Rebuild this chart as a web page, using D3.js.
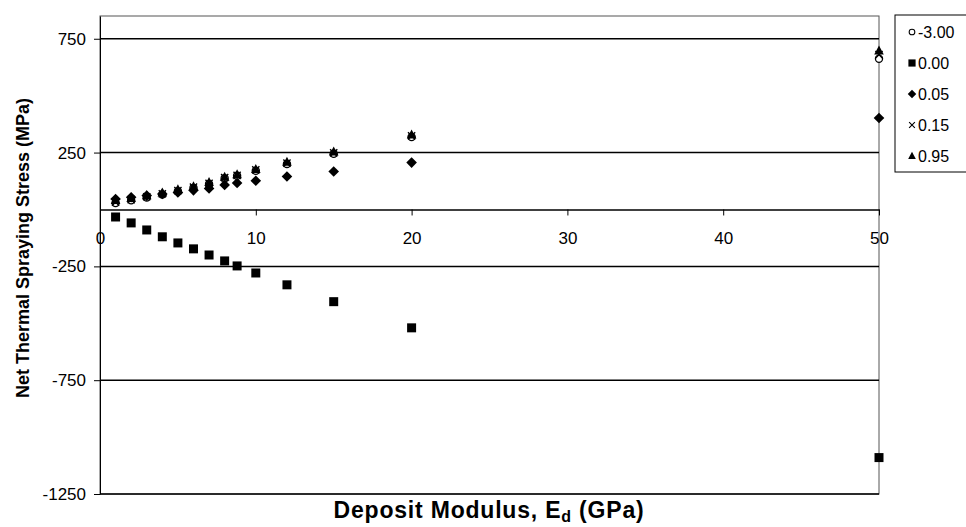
<!DOCTYPE html>
<html>
<head>
<meta charset="utf-8">
<script src="https://cdn.jsdelivr.net/npm/d3@7"></script>
<style>
  body { margin: 0; background: #fff; }
  svg { display: block; font-family: "Liberation Sans", Arial, sans-serif; }
</style>
</head>
<body>
<div id="chart"></div>
<script>
// DEPOSIT MODULUS VALUES (GPa)
const modulus = [1, 2, 3, 4, 5, 6, 7, 8, 8.8, 10, 12, 15, 20, 50];

// NET STRESS FOR EACH SERIES (MPa)
const sMinus300 = [28, 40, 53, 66, 80, 95, 112, 137, 148, 170, 200, 245, 318, 662];
const s000 = [-33, -59, -90, -120, -147, -173, -200, -226, -248, -279, -331, -405, -520, -1090];
const s005 = [46, 54, 61, 68, 75, 84, 92, 108, 116, 126, 145, 167, 206, 402];
const s015 = [32, 43, 56, 69, 83, 98, 115, 140, 150, 174, 204, 249, 323, 680];
const s095 = [40, 49, 61, 73, 87, 101, 119, 143, 153, 177, 208, 253, 328, 697];

const seriesNames = ['-3.00', '0.00', '0.05', '0.15', '0.95'];
const seriesValues = [sMinus300, s000, s005, s015, s095];
const seriesSymbols = ['circle', 'square', 'diamond', 'cross', 'triangle'];

const xTicks = [0, 10, 20, 30, 40, 50];
const yTicks = [-1250, -750, -250, 250, 750];

const width = 966, height = 527;
const plot = { left: 100, right: 879, top: 16, bottom: 494 };

const x = d3.scaleLinear().domain([0, 50]).range([plot.left, plot.right]);
const y = d3.scaleLinear().domain([-1250, 850]).range([plot.bottom, plot.top]);

const svg = d3.select('#chart')
  .append('svg')
  .attr('width', width)
  .attr('height', height);

// PLOT AREA BORDER
svg.append('rect')
  .attr('x', plot.left)
  .attr('y', plot.top)
  .attr('width', plot.right - plot.left)
  .attr('height', plot.bottom - plot.top)
  .attr('fill', 'none')
  .attr('stroke', '#555')
  .attr('stroke-width', 1);

// HORIZONTAL GRIDLINES
svg.append('g')
  .selectAll('line')
  .data(yTicks)
  .enter()
  .append('line')
  .attr('x1', plot.left)
  .attr('x2', plot.right)
  .attr('y1', function (d) { return y(d); })
  .attr('y2', function (d) { return y(d); })
  .attr('stroke', '#000')
  .attr('stroke-width', 1.5);

// Y AXIS (plain hyphen for negatives, like the original)
const yAxis = svg.append('g')
  .attr('transform', 'translate(' + plot.left + ',0)')
  .call(d3.axisLeft(y).tickValues(yTicks).tickSize(6).tickSizeOuter(0)
    .tickFormat(function (d) { return String(d); }));
yAxis.select('.domain').attr('stroke', '#000');
yAxis.selectAll('.tick line').attr('stroke', '#000');
yAxis.selectAll('text')
  .attr('font-size', 17)
  .attr('fill', '#000')
  .attr('x', -14);

// X AXIS CROSSES AT ZERO, LABELS BELOW
const xAxis = svg.append('g')
  .attr('transform', 'translate(0,' + y(0) + ')')
  .call(d3.axisBottom(x).tickValues(xTicks).tickSize(6).tickSizeOuter(0));
xAxis.select('.domain').attr('stroke', '#000').attr('stroke-width', 1.5);
xAxis.selectAll('.tick line').attr('stroke', '#000');
xAxis.selectAll('text')
  .attr('font-size', 17)
  .attr('fill', '#000')
  .attr('y', 22);

// SERIES MARKERS
function symbolPath(kind) {
  if (kind === 'circle') return d3.symbol(d3.symbolCircle, 40)();
  if (kind === 'square') return d3.symbol(d3.symbolSquare, 81)();
  if (kind === 'diamond') return 'M0,-5.3L5.3,0L0,5.3L-5.3,0Z';
  if (kind === 'triangle') return 'M0,-5.3L4.8,3.7L-4.8,3.7Z';
  return 'M-3.6,-3.6L3.6,3.6M3.6,-3.6L-3.6,3.6';
}

function styleMarker(sel, kind) {
  if (kind === 'circle') {
    sel.attr('fill', '#fff').attr('stroke', '#000').attr('stroke-width', 1.3);
  } else if (kind === 'cross') {
    sel.attr('fill', 'none').attr('stroke', '#000').attr('stroke-width', 1.4);
  } else {
    sel.attr('fill', '#000').attr('stroke', 'none');
  }
}

seriesValues.forEach(function (vals, i) {
  const kind = seriesSymbols[i];
  const pts = svg.append('g')
    .selectAll('path')
    .data(vals)
    .enter()
    .append('path')
    .attr('d', symbolPath(kind))
    .attr('transform', function (d, j) {
      return 'translate(' + x(modulus[j]) + ',' + y(d) + ')';
    });
  styleMarker(pts, kind);
});

// LEGEND
const legend = svg.append('g');
legend.append('rect')
  .attr('x', 895)
  .attr('y', 15)
  .attr('width', 80)
  .attr('height', 157)
  .attr('fill', '#fff')
  .attr('stroke', '#000')
  .attr('stroke-width', 1);

const item = legend.selectAll('.item')
  .data(seriesNames)
  .enter()
  .append('g')
  .attr('class', 'item')
  .attr('transform', function (d, i) {
    return 'translate(912,' + (32 + i * 31) + ')';
  });

item.each(function (d, i) {
  const kind = seriesSymbols[i];
  const m = d3.select(this).append('path')
    .attr('d', symbolPath(kind))
    .attr('transform', 'scale(0.8)');
  styleMarker(m, kind);
});

item.append('text')
  .attr('x', 6)
  .attr('dy', '0.36em')
  .attr('font-size', 16)
  .text(function (d) { return d; });

// AXIS TITLES
svg.append('text')
  .attr('transform', 'translate(29,248) rotate(-90)')
  .attr('text-anchor', 'middle')
  .attr('font-weight', 'bold')
  .attr('font-size', 18)
  .text('Net Thermal Spraying Stress (MPa)');

const xt = svg.append('text')
  .attr('x', 489)
  .attr('y', 518)
  .attr('text-anchor', 'middle')
  .attr('font-weight', 'bold')
  .attr('font-size', 23)
  .attr('letter-spacing', 0.8);
xt.append('tspan').text('Deposit Modulus, E');
xt.append('tspan').attr('font-size', 16).attr('dy', 4).text('d');
xt.append('tspan').attr('dy', -4).text(' (GPa)');
</script>
</body>
</html>
